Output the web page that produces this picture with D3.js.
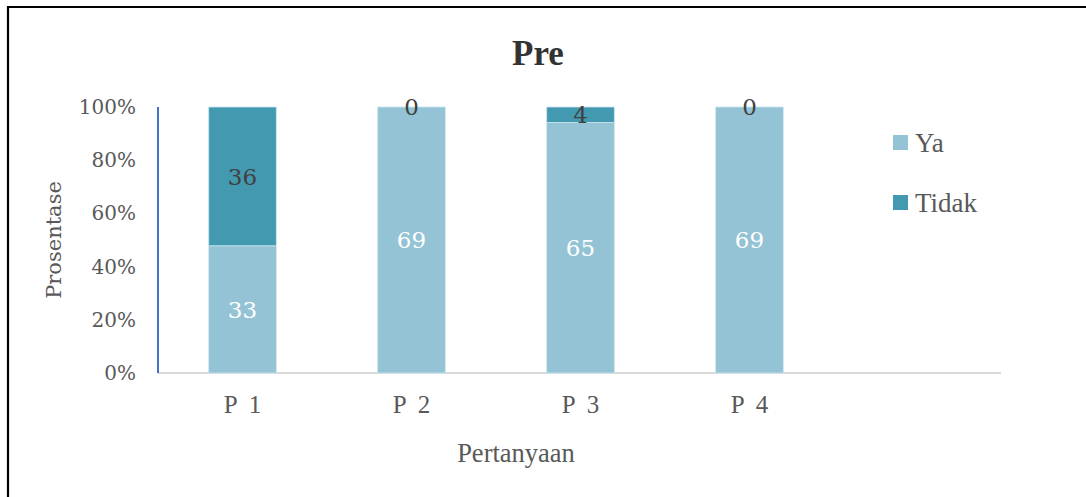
<!DOCTYPE html>
<html><head><meta charset="utf-8">
<script src="https://cdn.jsdelivr.net/npm/d3@7"></script>
<style>html,body{margin:0;padding:0;background:#fff;}svg{display:block;}</style>
</head><body>
<svg id="chart" width="1086" height="497"></svg>
<script>
const categories = ["P 1", "P 2", "P 3", "P 4"];
const seriesNames = ["Ya", "Tidak"];
const ya = [33, 69, 65, 69];
const tidak = [36, 0, 4, 0];
const yTicks = [0, 0.2, 0.4, 0.6, 0.8, 1.0];
const colors = {Ya: "#93c3d5", Tidak: "#4399b0"};

const svg = d3.select("#chart");
const W = 1086, H = 497;
const x0 = 158, step = 169, yTop = 107, yBot = 373;

// frame
svg.append("path").attr("d", `M8,${H} L8,7 L${W},7`).attr("fill", "none")
  .attr("stroke", "#000").attr("stroke-width", 2.2);

const rows = categories.map((c, i) => ({cat: c, Ya: ya[i], Tidak: tidak[i]}));
const stacked = d3.stack().keys(seriesNames).offset(d3.stackOffsetExpand)(rows);

const x = d3.scaleBand().domain(categories).range([x0, x0 + step * categories.length])
  .paddingInner(0.6).paddingOuter(0.3);
const y = d3.scaleLinear().domain([0, 1]).range([yBot, yTop]);

// y tick labels
const yAxis = d3.axisLeft(y).tickValues(yTicks).tickFormat(d3.format(".0%")).tickSize(0).tickPadding(22);
const gy = svg.append("g").attr("transform", `translate(${x0},0)`).call(yAxis);
gy.select(".domain").remove();
gy.selectAll("text").attr("font-family", "DejaVu Serif").attr("font-size", 20)
  .attr("fill", "#595959");

// baseline
svg.append("line").attr("x1", x0).attr("x2", 1001).attr("y1", yBot).attr("y2", yBot)
  .attr("stroke", "#d9d9d9").attr("stroke-width", 2);

// bars
stacked.forEach(s => {
  svg.append("g").selectAll("rect").data(s).join("rect")
    .attr("x", d => x(d.data.cat))
    .attr("width", x.bandwidth())
    .attr("y", d => y(d[1]))
    .attr("height", d => y(d[0]) - y(d[1]))
    .attr("fill", colors[s.key])
    .attr("stroke", "#cde6ef").attr("stroke-width", 0.8);
});

// y axis line
svg.append("line").attr("x1", x0).attr("x2", x0).attr("y1", yTop).attr("y2", yBot)
  .attr("stroke", "#4472c4").attr("stroke-width", 2);

// data labels
stacked.forEach(s => {
  svg.append("g").selectAll("text").data(s).join("text")
    .attr("x", d => x(d.data.cat) + x.bandwidth() / 2)
    .attr("y", d => (y(d[0]) + y(d[1])) / 2)
    .attr("dy", "0.36em")
    .attr("text-anchor", "middle")
    .attr("font-family", "DejaVu Serif").attr("font-size", 23)
    .attr("fill", s.key === "Ya" ? "#ffffff" : "#404040")
    .text(d => d.data[s.key]);
});

// x axis labels
const xAxis = d3.axisBottom(x).tickSize(0).tickPadding(0);
const gx = svg.append("g").attr("transform", `translate(0,${yBot})`).call(xAxis);
gx.select(".domain").remove();
gx.selectAll("text").attr("y", 40).attr("dy", 0)
  .attr("font-family", "Liberation Serif").attr("font-size", 25)
  .attr("word-spacing", 6).attr("fill", "#595959");

// title
svg.append("text").attr("x", 538).attr("y", 65).attr("text-anchor", "middle")
  .attr("font-family", "Liberation Serif").attr("font-weight", "bold").attr("font-size", 35)
  .attr("fill", "#333333").text("Pre");

// axis titles
svg.append("text").attr("x", 516).attr("y", 462).attr("text-anchor", "middle")
  .attr("font-family", "Liberation Serif").attr("font-size", 26.5).attr("fill", "#595959")
  .text("Pertanyaan");
svg.append("text").attr("transform", "translate(61,240) rotate(-90)").attr("text-anchor", "middle")
  .attr("font-family", "DejaVu Serif").attr("font-size", 21).attr("fill", "#595959")
  .text("Prosentase");

// legend
const lg = svg.append("g");
seriesNames.forEach((n, i) => {
  const yy = 135 + i * 60;
  lg.append("rect").attr("x", 893).attr("y", yy).attr("width", 15).attr("height", 15).attr("fill", colors[n]);
  lg.append("text").attr("x", 915).attr("y", yy + 17).attr("font-family", "Liberation Serif")
    .attr("font-size", 27).attr("fill", "#595959").text(n);
});
</script>
</body></html>
